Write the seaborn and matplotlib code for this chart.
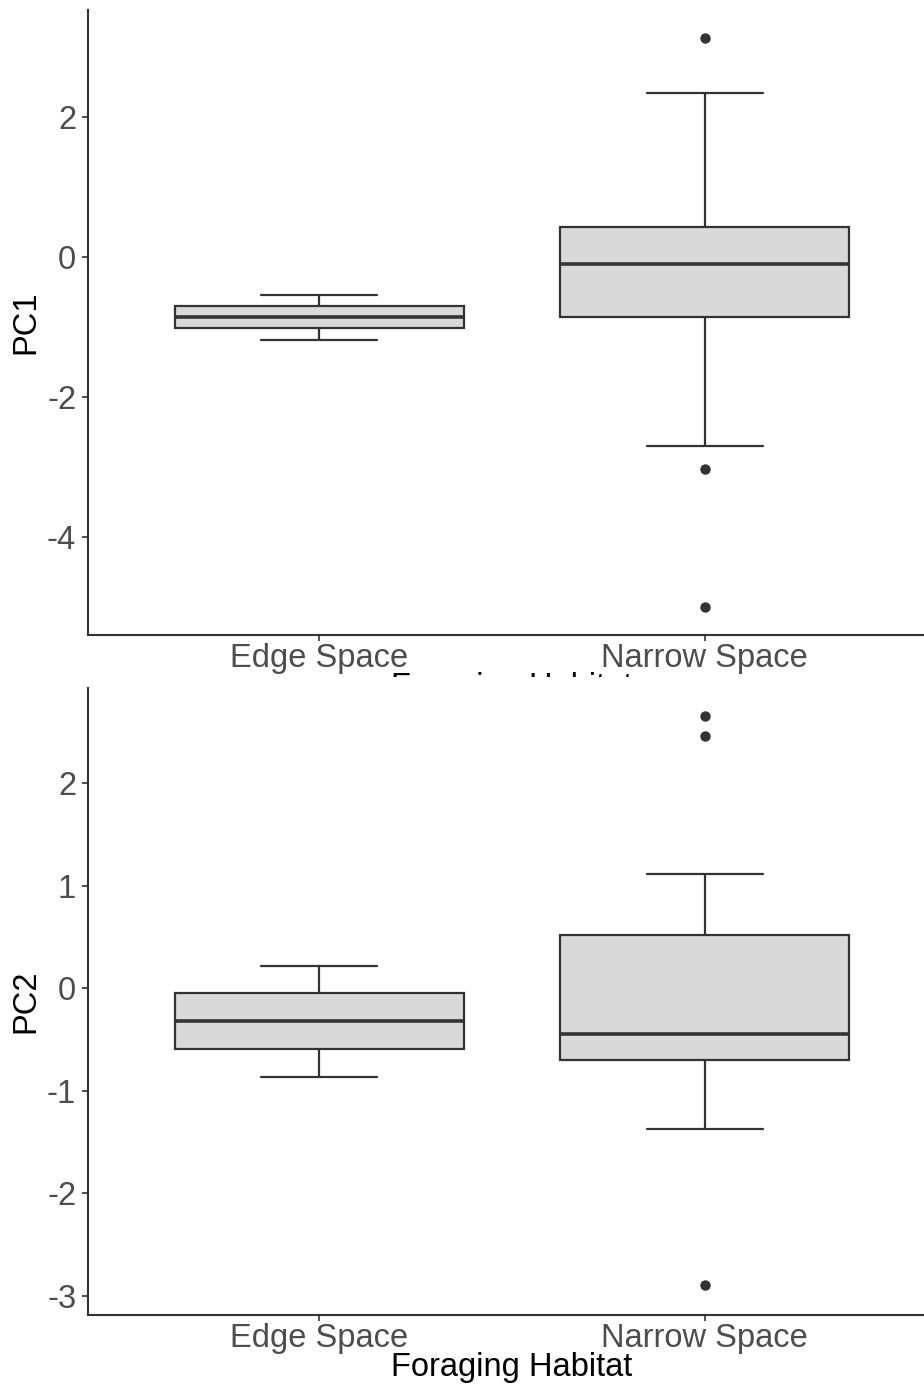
import numpy as np
import pandas as pd
import matplotlib
matplotlib.use("Agg")
import matplotlib.pyplot as plt
from matplotlib.patches import Rectangle
import seaborn as sns

# values
habitats = ["Edge Space", "Narrow Space"]

# five-number summaries: lower whisker, Q1, median, Q3, upper whisker
pc1_edge = [-1.19, -1.01, -0.86, -0.70, -0.54]
pc1_narrow = [-2.70, -0.86, -0.10, 0.43, 2.34]
pc1_outliers_narrow = [3.13, -3.03, -5.00]

pc2_edge = [-0.87, -0.59, -0.32, -0.05, 0.22]
pc2_narrow = [-1.37, -0.70, -0.45, 0.52, 1.11]
pc2_outliers_narrow = [2.65, 2.46, -2.89]

sns.set_theme(style="white")
plt.rcParams['font.family'] = ['Liberation Sans', 'DejaVu Sans']

FS = 23.5
LINE = "#333333"
TICKC = "#4D4D4D"


def draw_panel(ax, edge, narrow, outliers, ylabel, ylim, yticks):
    box_df = pd.DataFrame({
        "habitat": [habitats[0]] * len(edge) + [habitats[1]] * len(narrow),
        "value": edge + narrow,
    })
    out_df = pd.DataFrame({"habitat": [habitats[1]] * len(outliers), "value": outliers})

    sns.boxplot(data=box_df, x="habitat", y="value", order=habitats, whis=np.inf,
                width=0.75, color="#D9D9D9", linecolor=LINE, linewidth=1.6,
                capwidths=0.3, medianprops={"linewidth": 2.6, "color": LINE},
                ax=ax)
    sns.stripplot(data=out_df, x="habitat", y="value", order=habitats, jitter=False,
                  color=LINE, size=7.5, ax=ax)

    ax.set_xlim(-0.6, 1.6)
    ax.set_ylim(*ylim)
    ax.set_yticks(yticks)
    ax.set_yticklabels([str(t) for t in yticks])
    ax.set_ylabel(ylabel, fontsize=FS, color="black", labelpad=4)
    ax.set_xlabel("Foraging Habitat", fontsize=FS, color="black", labelpad=-1)
    ax.tick_params(axis="both", labelsize=FS, colors=TICKC, length=4.5, width=1.4,
                   direction="out", left=True, bottom=True, pad=4)
    ax.tick_params(axis="x", pad=1)
    for side in ["top", "right"]:
        ax.spines[side].set_visible(False)
    for side in ["left", "bottom"]:
        ax.spines[side].set_color(LINE)
        ax.spines[side].set_linewidth(1.5)
    ax.set_facecolor("white")


fig = plt.figure(figsize=(9.24, 13.87), dpi=100)
W, H = 924, 1387
left = 88 / W
width = (936 - 88) / W

ax1 = fig.add_axes([left, 1 - 635 / H, width, (635 - 10) / H])
ax2 = fig.add_axes([left, 1 - 1315 / H, width, (1315 - 688) / H])

draw_panel(ax1, pc1_edge, pc1_narrow, pc1_outliers_narrow, "PC1", (-5.40, 3.53), [-4, -2, 0, 2])
draw_panel(ax2, pc2_edge, pc2_narrow, pc2_outliers_narrow, "PC2", (-3.185, 2.926), [-3, -2, -1, 0, 1, 2])

# the lower plot covers the upper plot's x-axis title
cover = Rectangle((0, 0), 1, 1 - 677 / H, transform=fig.transFigure,
                  facecolor="white", edgecolor="none", zorder=1)
fig.patches.append(cover)
ax1.set_zorder(0)
ax2.set_zorder(2)

fig.savefig("out.png", dpi=100)
